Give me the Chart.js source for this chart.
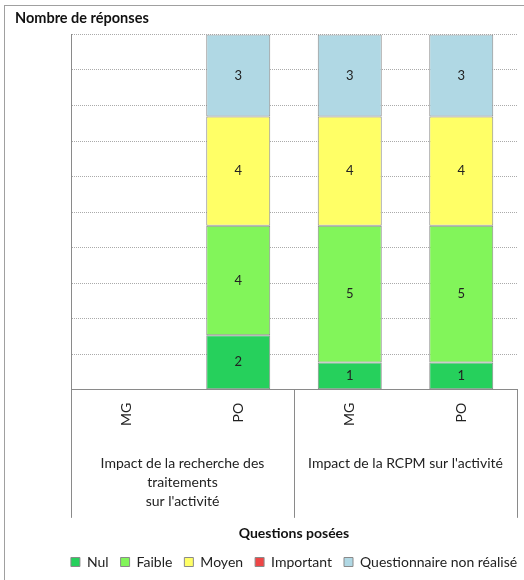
<!DOCTYPE html>
<html>
<head>
<meta charset="utf-8">
<script src="https://cdn.jsdelivr.net/npm/chart.js@4/dist/chart.umd.min.js"></script>
<style>
  html, body { margin: 0; padding: 0; background: #fff; }
  #wrap { width: 524px; height: 580px; }
</style>
</head>
<body>
<div id="wrap"><canvas id="c" width="524" height="580"></canvas></div>
<script>
// Categories: respondent type within each question group
const categories = ['MG', 'PO', 'MG', 'PO'];
const groups = [
  ['Impact de la recherche des', 'traitements', "sur l'activité"],
  ["Impact de la RCPM sur l'activité"]
];

// Response counts per level (null = no answers for that category)
const nul       = [null, 2, 1, 1];
const faible    = [null, 4, 5, 5];
const moyen     = [null, 4, 4, 4];
const important = [null, 0, 0, 0];
const nonRealise = [null, 3, 3, 3];

const FONT = 'Lato, "Open Sans", sans-serif';
const TEXT = '#222';

// Draw the value in the middle of every non-empty segment
const segmentLabels = {
  id: 'segmentLabels',
  afterDatasetsDraw(chart) {
    const ctx = chart.ctx;
    ctx.save();
    ctx.font = '13px ' + FONT;
    ctx.fillStyle = TEXT;
    ctx.textAlign = 'center';
    ctx.textBaseline = 'middle';
    chart.data.datasets.forEach((ds, i) => {
      const meta = chart.getDatasetMeta(i);
      if (meta.hidden) return;
      meta.data.forEach((bar, j) => {
        const v = ds.data[j];
        if (v == null || v === 0) return;
        ctx.fillText(String(v), bar.x, (bar.y + bar.base) / 2);
      });
    });
    ctx.restore();
  }
};

// Outer frame, legend centred under the plot, group separators below the axis
const frameAndGroups = {
  id: 'frameAndGroups',
  afterLayout(chart) {
    const lg = chart.legend, area = chart.chartArea;
    if (!lg) return;
    const shift = (area.left + area.right) / 2 - (lg.left + lg.right) / 2;
    lg.left += shift;
    lg.right += shift;
  },
  beforeDraw(chart) {
    const ctx = chart.ctx;
    ctx.save();
    ctx.fillStyle = '#fff';
    ctx.fillRect(0, 0, chart.width, chart.height);
    ctx.strokeStyle = '#a0a0a0';
    ctx.lineWidth = 1;
    ctx.strokeRect(4.5, 5.5, chart.width + 20, chart.height + 20);
    ctx.restore();
  },
  afterDraw(chart) {
    const ctx = chart.ctx;
    const x = chart.scales.x;
    const area = chart.chartArea;
    const mid = (x.getPixelForValue(1) + x.getPixelForValue(2)) / 2;
    const bounds = [area.left, mid, area.right];
    ctx.save();
    ctx.strokeStyle = '#8a8a8a';
    ctx.lineWidth = 1;
    bounds.forEach(b => {
      const px = Math.round(b) + 0.5;
      ctx.beginPath();
      ctx.moveTo(px, area.bottom);
      ctx.lineTo(px, area.bottom + 128);
      ctx.stroke();
    });
    ctx.restore();
  }
};

const border = '#8a8a8a';
function ds(label, data, color) {
  return {
    label, data,
    backgroundColor: color,
    borderColor: border,
    borderWidth: 1,
    borderSkipped: false,
    barPercentage: 0.574,
    categoryPercentage: 1.0
  };
}

new Chart(document.getElementById('c'), {
  type: 'bar',
  data: {
    labels: categories,
    datasets: [
      ds('Nul', nul, '#26d05c'),
      ds('Faible', faible, '#82f55a'),
      ds('Moyen', moyen, '#ffff66'),
      ds('Important', important, '#ee4646'),
      ds('Questionnaire non réalisé', nonRealise, '#b0d8e4')
    ]
  },
  plugins: [segmentLabels, frameAndGroups],
  options: {
    responsive: false,
    animation: false,
    devicePixelRatio: 1,
    layout: { padding: { left: 15, right: 7, top: 0, bottom: 1 } },
    plugins: {
      tooltip: { enabled: false },
      title: {
        display: true,
        text: 'Nombre de réponses',
        align: 'start',
        color: '#111',
        font: { family: FONT, size: 14.5, weight: 'bold' },
        padding: { top: 10, bottom: 7 }
      },
      legend: {
        position: 'bottom',
        labels: {
          color: TEXT,
          font: { family: FONT, size: 14 },
          boxWidth: 9,
          boxHeight: 9,
          padding: 12
        }
      }
    },
    scales: {
      x: {
        stacked: true,
        offset: true,
        grid: { display: false },
        border: { display: true, color: border },
        ticks: {
          color: TEXT,
          font: { family: FONT, size: 14 },
          minRotation: 90,
          maxRotation: 90,
          padding: 5
        }
      },
      group: {
        type: 'category',
        labels: groups,
        position: 'bottom',
        offset: true,
        grid: { display: false },
        border: { display: false },
        ticks: {
          color: TEXT,
          font: { family: FONT, size: 14, lineHeight: 1.36 },
          maxRotation: 0,
          padding: 15
        },
        title: {
          display: true,
          text: 'Questions posées',
          color: '#111',
          font: { family: FONT, size: 14, weight: 'bold' },
          padding: { top: -1, bottom: 1 }
        }
      },
      y: {
        stacked: true,
        min: 0,
        max: 13,
        afterFit(scale) { scale.width = 56; },
        border: { display: true, color: border, dash: [1, 1] },
        grid: {
          color: '#aaaaaa',
          lineWidth: 1,
          drawTicks: false
        },
        ticks: { display: false, stepSize: 1.3 }
      }
    }
  }
});
</script>
</body>
</html>
